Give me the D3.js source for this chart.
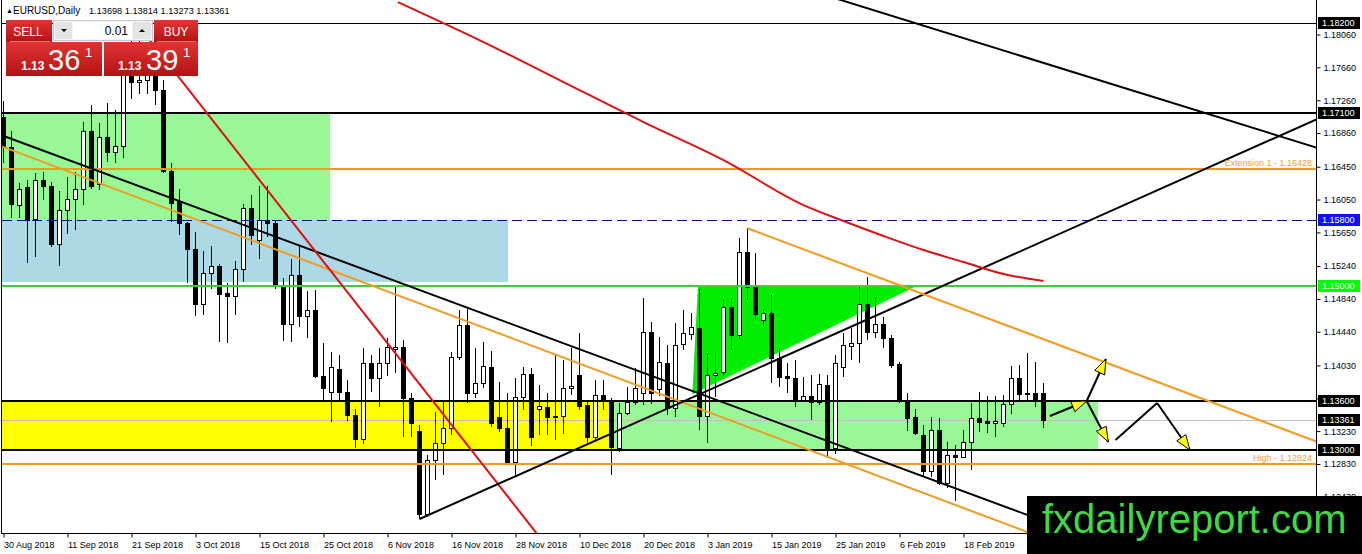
<!DOCTYPE html>
<html><head><meta charset="utf-8">
<script src="https://cdn.jsdelivr.net/npm/d3@7"></script>
<style>
html,body{margin:0;padding:0;background:#fff;overflow:hidden;}
svg{display:block;font-family:"Liberation Sans",Arial,sans-serif;}
</style></head><body>
<svg id="c" width="1362" height="554"></svg>
<script>
// ---------- DATA ----------
const open  = [1.1706,1.1669,1.1598,1.1620,1.1581,1.1629,1.1621,1.1551,1.1592,1.1606,1.1618,1.1688,1.1624,1.1681,1.1663,1.1670,1.1775,1.1748,1.1750,1.1768,1.1738,1.1640,1.1603,1.1576,1.1545,1.1478,1.1515,1.1524,1.1491,1.1488,1.1520,1.1595,1.1556,1.1580,1.1576,1.1500,1.1454,1.1513,1.1463,1.1470,1.1390,1.1371,1.1399,1.1371,1.1343,1.1313,1.1406,1.1388,1.1406,1.1423,1.1426,1.1363,1.1323,1.1222,1.1288,1.1309,1.1327,1.1413,1.1452,1.1369,1.1382,1.1401,1.1340,1.1327,1.1285,1.1365,1.1393,1.1350,1.1352,1.1342,1.1341,1.1375,1.1391,1.1355,1.1316,1.1367,1.1361,1.1302,1.1345,1.1359,1.1370,1.1444,1.1374,1.1406,1.1351,1.1429,1.1441,1.1449,1.1341,1.1391,1.1395,1.1474,1.1440,1.1541,1.1498,1.1458,1.1467,1.1412,1.1390,1.1388,1.1361,1.1366,1.1358,1.1379,1.1302,1.1401,1.1427,1.1430,1.1478,1.1444,1.1453,1.1436,1.1405,1.1361,1.1340,1.1318,1.1274,1.1324,1.1260,1.1294,1.1291,1.1310,1.1339,1.1335,1.1333,1.1333,1.1356,1.1388,1.1369,1.1369,1.13698];
const high  = [1.1725,1.1688,1.1625,1.1629,1.1637,1.1639,1.1626,1.1615,1.1632,1.1639,1.1699,1.1720,1.1698,1.1723,1.1714,1.1787,1.1803,1.1815,1.1795,1.1797,1.1750,1.1650,1.1618,1.1578,1.1566,1.1542,1.1548,1.1527,1.1503,1.1530,1.1600,1.1610,1.1621,1.1621,1.1580,1.1509,1.1532,1.1550,1.1494,1.1495,1.1430,1.1419,1.1416,1.1385,1.1350,1.1424,1.1416,1.1424,1.1436,1.1499,1.1434,1.1370,1.1330,1.1294,1.1346,1.1361,1.1419,1.1470,1.1472,1.1424,1.1432,1.1421,1.1383,1.1369,1.1388,1.1401,1.1400,1.1379,1.1369,1.1416,1.1410,1.1424,1.1442,1.1361,1.1385,1.1385,1.1363,1.1357,1.1377,1.1400,1.1485,1.1456,1.1438,1.1428,1.1455,1.1470,1.1467,1.1496,1.1418,1.1419,1.1484,1.1485,1.1558,1.1570,1.1540,1.1472,1.1489,1.1424,1.1406,1.1410,1.1389,1.1391,1.1393,1.1391,1.1416,1.1442,1.1449,1.1499,1.1511,1.1486,1.1462,1.1440,1.1407,1.1369,1.1350,1.1330,1.1340,1.1339,1.1310,1.1306,1.1324,1.1357,1.1371,1.1366,1.1366,1.1367,1.1402,1.1404,1.1418,1.1407,1.13814];
const low   = [1.1650,1.1582,1.1583,1.1528,1.1535,1.1604,1.1547,1.1524,1.1563,1.1568,1.1598,1.1618,1.1617,1.1651,1.1650,1.1655,1.1727,1.1733,1.1733,1.1720,1.1637,1.1578,1.1562,1.1503,1.1463,1.1464,1.1496,1.1432,1.1430,1.1465,1.1505,1.1550,1.1533,1.1560,1.1496,1.1433,1.1432,1.1450,1.1437,1.1388,1.1360,1.1334,1.1361,1.1335,1.1302,1.1307,1.1371,1.1352,1.1390,1.1394,1.1316,1.1316,1.1216,1.1218,1.1263,1.1270,1.1318,1.1410,1.1357,1.1363,1.1375,1.1328,1.1322,1.1284,1.1267,1.1349,1.1305,1.1318,1.1318,1.1312,1.1320,1.1367,1.1349,1.1309,1.1310,1.1349,1.1270,1.1298,1.1343,1.1355,1.1355,1.1356,1.1366,1.1343,1.1340,1.1422,1.1434,1.1324,1.1309,1.1365,1.1390,1.1422,1.1435,1.1483,1.1458,1.1450,1.1382,1.1377,1.1369,1.1352,1.1358,1.1337,1.1355,1.1290,1.1295,1.1389,1.1410,1.1406,1.1434,1.1437,1.1424,1.1400,1.1357,1.1323,1.1318,1.1267,1.1267,1.1257,1.1254,1.1238,1.1290,1.1276,1.1322,1.1321,1.1316,1.1328,1.1344,1.1358,1.1361,1.1352,1.13273];
const close = [1.1669,1.1600,1.1618,1.1580,1.1629,1.1621,1.1551,1.1592,1.1606,1.1618,1.1688,1.1621,1.1681,1.1663,1.1670,1.1775,1.1748,1.1750,1.1768,1.1738,1.1640,1.1601,1.1576,1.1545,1.1478,1.1515,1.1524,1.1490,1.1488,1.1520,1.1595,1.1562,1.1580,1.1576,1.1500,1.1454,1.1513,1.1463,1.1470,1.1390,1.1375,1.1401,1.1371,1.1343,1.1313,1.1406,1.1388,1.1406,1.1425,1.1426,1.1363,1.1333,1.1222,1.1288,1.1309,1.1327,1.1413,1.1452,1.1369,1.1382,1.1402,1.1333,1.1327,1.1285,1.1365,1.1393,1.1316,1.1354,1.1340,1.1340,1.1375,1.1378,1.1354,1.1316,1.1367,1.1361,1.1304,1.1345,1.1358,1.1375,1.1444,1.1369,1.1407,1.1351,1.1428,1.1442,1.1450,1.1341,1.1391,1.1394,1.1474,1.1440,1.1541,1.1498,1.1466,1.1467,1.1412,1.1389,1.1388,1.1361,1.1366,1.1358,1.1380,1.1301,1.1406,1.1428,1.1430,1.1478,1.1444,1.1453,1.1436,1.1404,1.1361,1.1339,1.1321,1.1274,1.1324,1.1260,1.1294,1.1291,1.1310,1.1339,1.1334,1.1333,1.1335,1.1356,1.1388,1.1368,1.1368,1.1362,1.13361];

const dateLabels = ["30 Aug 2018","11 Sep 2018","21 Sep 2018","3 Oct 2018","15 Oct 2018","25 Oct 2018","6 Nov 2018","16 Nov 2018","28 Nov 2018","10 Dec 2018","20 Dec 2018","3 Jan 2019","15 Jan 2019","25 Jan 2019","6 Feb 2019","18 Feb 2019"];
const dateLabelBars = [0,8,16,24,32,40,48,56,64,72,80,88,96,104,112,120];
const priceTicks = [1.18060,1.17660,1.17260,1.16860,1.16450,1.16050,1.15650,1.15240,1.14840,1.14440,1.14030,1.13630,1.13230,1.12830,1.12430];

// moving average (bar index, value)
const maBars   = [49.3,60,70,80,90,100,105,110,115,120,125,130];
const maValues = [1.18455,1.17968,1.17481,1.16994,1.16531,1.15983,1.15789,1.15606,1.15435,1.15289,1.15143,1.15058];

// horizontal levels
const levelPrices = [1.18200,1.17100,1.16428,1.15800,1.15000,1.13600,1.13000,1.12824];
const bidPrice = 1.13361;
const levelTexts = ["Extension 1 - 1.16428","High - 1.12824"];
const levelTextPrices = [1.16428,1.12824];

// zones [startBar, endBar, topPrice, bottomPrice]
const zoneStart  = [-2, -2, -2, 76.25];
const zoneEnd    = [40.8, 63, 76.25, 136.8];
const zoneTop    = [1.1710, 1.1580, 1.1360, 1.1360];
const zoneBottom = [1.1580, 1.1504, 1.1300, 1.1300];

// triangle (bar, price)
const triBars   = [86.8, 114.0, 86.1];
const triPrices = [1.1499, 1.1499, 1.1368];

// trend lines [bar0, price0, bar1, price1]
const trendBlackDown  = [-1, 1.1686, 131, 1.1210];
const trendOrangeLow  = [-1, 1.16726, 131, 1.1189];
const trendRed        = [17, 1.1815, 67, 1.1194];
const trendBlackUp    = [52, 1.1216, 164.2, 1.1703];
const trendBlackTop   = [104, 1.1850, 164.2, 1.1668];
const trendOrangeHigh = [93, 1.1570, 164.2, 1.1310];

// projection arrows (bar, price)
const arrowBars   = [[130.8,135.4],[135.4,137.8],[135.4,138.1],[139.0,144.2],[144.2,148.3]];
const arrowPrices = [[1.13414,1.13597],[1.13597,1.14108],[1.13597,1.13097],[1.13122,1.13572],[1.13572,1.13000]];
const arrowHeads  = [true,true,true,false,true];

// ---------- CHART ----------
const svg = d3.select("#c");
const plotL = 2, plotR = 1316, plotT = 0, plotB = 533;
const x = d3.scaleLinear().domain([0,130]).range([3.5,1043.5]);
const y = d3.scaleLinear().domain([1.13,1.182]).range([450,23]);
const crisp = (v,w) => (w % 2 === 1) ? Math.round(v - 0.5) + 0.5 : Math.round(v);

svg.append("rect").attr("width",1362).attr("height",554).attr("fill","#fff");
const defs = svg.append("defs");
defs.append("clipPath").attr("id","clip").append("rect")
  .attr("x",plotL).attr("y",plotT).attr("width",plotR-plotL).attr("height",plotB-plotT);
const grad = defs.append("linearGradient").attr("id","red").attr("x1",0).attr("y1",0).attr("x2",0).attr("y2",1);
grad.append("stop").attr("offset","0%").attr("stop-color","#e23434");
grad.append("stop").attr("offset","100%").attr("stop-color","#b41212");

const plot = svg.append("g").attr("clip-path","url(#clip)");

// zones
const zoneColors = ["#98f898","#add8e6","#ffff00","#98f898"];
plot.selectAll("rect.zone").data(d3.range(zoneStart.length)).join("rect")
  .attr("x",i=>Math.round(x(zoneStart[i]))).attr("width",i=>Math.round(x(zoneEnd[i]))-Math.round(x(zoneStart[i])))
  .attr("y",i=>Math.round(y(zoneTop[i]))).attr("height",i=>Math.round(y(zoneBottom[i]))-Math.round(y(zoneTop[i])))
  .attr("fill",i=>zoneColors[i]);

// triangle
plot.append("path")
  .attr("d", d3.line()(triBars.map((b,i)=>[x(b),y(triPrices[i])])) + "Z")
  .attr("fill","#00ee00");

// bid line
plot.append("line").attr("x1",plotL).attr("x2",plotR)
  .attr("y1",crisp(y(bidPrice),1)).attr("y2",crisp(y(bidPrice),1))
  .attr("stroke","#c0c0c0").attr("stroke-width",1);

// candles
const bars = d3.range(open.length).map(i=>({i,o:open[i],h:high[i],l:low[i],c:close[i]}));
const cg = plot.append("g");
cg.selectAll("line").data(bars).join("line")
  .attr("x1",d=>x(d.i)).attr("x2",d=>x(d.i))
  .attr("y1",d=>Math.round(y(d.h))).attr("y2",d=>Math.round(y(d.l)))
  .attr("stroke","#000").attr("stroke-width",1);
cg.selectAll("rect").data(bars).join("rect")
  .attr("x",d=>x(d.i)-2).attr("width",4)
  .attr("y",d=>Math.round(y(Math.max(d.o,d.c)))+0.5)
  .attr("height",d=>Math.max(1,Math.round(y(Math.min(d.o,d.c)))-Math.round(y(Math.max(d.o,d.c)))))
  .attr("fill",d=>d.c>=d.o?"#fff":"#000")
  .attr("stroke","#000").attr("stroke-width",1);

// horizontal levels
const levelStyle = [
  {c:"#000",w:1},{c:"#000",w:2},{c:"#f39a1e",w:2},{c:"#0c0c88",w:1,dash:"10,5"},
  {c:"#3ccf3c",w:2},{c:"#000",w:2},{c:"#000",w:2},{c:"#f39a1e",w:2}];
plot.selectAll("line.lvl").data(levelPrices).join("line")
  .attr("x1",plotL).attr("x2",plotR)
  .attr("y1",(d,i)=>crisp(y(d),levelStyle[i].w)).attr("y2",(d,i)=>crisp(y(d),levelStyle[i].w))
  .attr("stroke",(d,i)=>levelStyle[i].c).attr("stroke-width",(d,i)=>levelStyle[i].w)
  .attr("stroke-dasharray",(d,i)=>levelStyle[i].dash||null);

// trend lines
function seg(t,color,w){
  plot.append("line").attr("x1",x(t[0])).attr("y1",y(t[1])).attr("x2",x(t[2])).attr("y2",y(t[3]))
    .attr("stroke",color).attr("stroke-width",w);
}
seg(trendBlackDown,"#000",2);
seg(trendOrangeLow,"#f39a1e",2);
seg(trendRed,"#dd1111",2);
seg(trendBlackUp,"#000",2);
seg(trendBlackTop,"#000",2);
seg(trendOrangeHigh,"#f39a1e",2);

// moving average
plot.append("path")
  .attr("d", d3.line().curve(d3.curveMonotoneX)(maBars.map((b,i)=>[x(b),y(maValues[i])])))
  .attr("fill","none").attr("stroke","#dd1111").attr("stroke-width",2);

// arrows
const ag = plot.append("g");
arrowBars.forEach((b,i)=>{
  const x0=x(b[0]), y0=y(arrowPrices[i][0]), x1=x(b[1]), y1=y(arrowPrices[i][1]);
  ag.append("line").attr("x1",x0).attr("y1",y0).attr("x2",x1).attr("y2",y1)
    .attr("stroke","#000").attr("stroke-width",2);
  if(arrowHeads[i]){
    const dx=x1-x0, dy=y1-y0, L=Math.hypot(dx,dy), ux=dx/L, uy=dy/L;
    const len=15, hw=5.5;
    const bx=x1-ux*len, by=y1-uy*len;
    ag.append("path").attr("d",d3.line()([[x1,y1],[bx-uy*hw,by+ux*hw],[bx+uy*hw,by-ux*hw]])+"Z")
      .attr("fill","#ffff00").attr("stroke","#000").attr("stroke-width",1);
  }
});

// level texts
svg.selectAll("text.lt").data(levelTexts).join("text")
  .attr("x",1312).attr("y",(d,i)=>y(levelTextPrices[i])-3)
  .attr("text-anchor","end").attr("font-size",9).attr("fill","#f0a032").text(d=>d);

// frame / axes lines
svg.append("line").attr("x1",1.5).attr("x2",1.5).attr("y1",0).attr("y2",plotB).attr("stroke","#000");
svg.append("line").attr("x1",plotR+0.5).attr("x2",plotR+0.5).attr("y1",0).attr("y2",plotB).attr("stroke","#000");
svg.append("line").attr("x1",1).attr("x2",plotR+1).attr("y1",plotB+0.5).attr("y2",plotB+0.5).attr("stroke","#000");

// right axis
const ra = svg.append("g").attr("transform",`translate(${plotR+0.5},0)`)
  .call(d3.axisRight(y).tickValues(priceTicks).tickSize(4).tickPadding(3).tickFormat(d3.format(".5f")));
ra.select(".domain").remove();
ra.selectAll("text").attr("font-size",9).attr("font-family","Liberation Sans, Arial, sans-serif").attr("fill","#000");
ra.selectAll("line").attr("stroke","#000");

// bottom axis
const ba = svg.append("g").attr("transform",`translate(0,${plotB+0.5})`)
  .call(d3.axisBottom(x).tickValues(dateLabelBars).tickSize(4).tickPadding(4)
    .tickFormat((d,i)=>dateLabels[i]));
ba.select(".domain").remove();
ba.selectAll("text").attr("font-size",9).attr("font-family","Liberation Sans, Arial, sans-serif")
  .attr("text-anchor","start").attr("dx",0).attr("fill","#000");
ba.selectAll("line").attr("stroke","#000");

// highlighted price boxes
const boxPrices = [1.18200,1.17100,1.15800,1.15000,1.13600,bidPrice,1.13000];
const boxColors = ["#000","#000","#1010ff","#00ff00","#000","#000","#000"];
const bg = svg.append("g");
boxPrices.forEach((p,i)=>{
  bg.append("rect").attr("x",plotR+2).attr("y",Math.round(y(p))-6).attr("width",42).attr("height",12).attr("fill",boxColors[i]);
  bg.append("text").attr("x",plotR+6).attr("y",Math.round(y(p))).attr("dy","0.34em")
    .attr("font-size",9).attr("fill","#fff").text(d3.format(".5f")(p));
});

// header
svg.append("text").attr("x",6).attr("y",13).attr("font-size",7).attr("fill","#000").text("▲");
svg.append("text").attr("x",13).attr("y",14).attr("font-size",10).attr("fill","#000").text("EURUSD,Daily");
svg.append("text").attr("x",89).attr("y",14).attr("font-size",9.2).attr("fill","#000").text("1.13698 1.13814 1.13273 1.13361");

// trade panel
const pn = svg.append("g");
pn.append("rect").attr("x",6).attr("y",20).attr("width",46).attr("height",22).attr("fill","url(#red)");
pn.append("rect").attr("x",154).attr("y",20).attr("width",44).attr("height",22).attr("fill","url(#red)");
pn.append("rect").attr("x",6).attr("y",42).attr("width",96).attr("height",34).attr("fill","url(#red)");
pn.append("rect").attr("x",104).attr("y",42).attr("width",94).attr("height",34).attr("fill","url(#red)");
pn.append("line").attr("x1",10).attr("x2",50).attr("y1",41.5).attr("y2",41.5).attr("stroke","#e87070");
pn.append("line").attr("x1",157).attr("x2",196).attr("y1",41.5).attr("y2",41.5).attr("stroke","#e87070");
pn.append("rect").attr("x",53.5).attr("y",20.5).attr("width",99).attr("height",20).attr("fill","#f4f4f4").attr("stroke","#c8c8c8");
pn.append("rect").attr("x",55).attr("y",22).attr("width",17).attr("height",17).attr("fill","#e4e4e4");
pn.append("rect").attr("x",73).attr("y",22).attr("width",59).attr("height",17).attr("fill","#fff");
pn.append("rect").attr("x",133).attr("y",22).attr("width",18).attr("height",17).attr("fill","#e4e4e4");
pn.append("path").attr("d",d3.line()([[61,29],[67,29],[64,32]])+"Z").attr("fill","#000");
pn.append("path").attr("d",d3.line()([[139,32],[145,32],[142,29]])+"Z").attr("fill","#000");
pn.append("text").attr("x",128).attr("y",35).attr("text-anchor","end").attr("font-size",12).attr("fill","#000").text("0.01");
pn.append("text").attr("x",28).attr("y",36).attr("text-anchor","middle").attr("font-size",12).attr("fill","#fff").text("SELL");
pn.append("text").attr("x",176).attr("y",36).attr("text-anchor","middle").attr("font-size",12).attr("fill","#fff").text("BUY");
[[21,48,85,"36"],[118,146,183,"39"]].forEach(a=>{
  pn.append("text").attr("x",a[0]).attr("y",70).attr("font-size",12).attr("font-weight","bold").attr("fill","#fff").text("1.13");
  pn.append("text").attr("x",a[1]).attr("y",70).attr("font-size",29).attr("fill","#fff").text(a[3]);
  pn.append("text").attr("x",a[2]).attr("y",57).attr("font-size",13).attr("fill","#fff").text("1");
});

// logo
svg.append("rect").attr("x",1027).attr("y",496).attr("width",335).attr("height",58).attr("fill","#000");
svg.append("text").attr("x",1042).attr("y",533).attr("font-size",40).attr("fill","#40d940").text("fxdailyreport.com");
</script>
</body></html>
